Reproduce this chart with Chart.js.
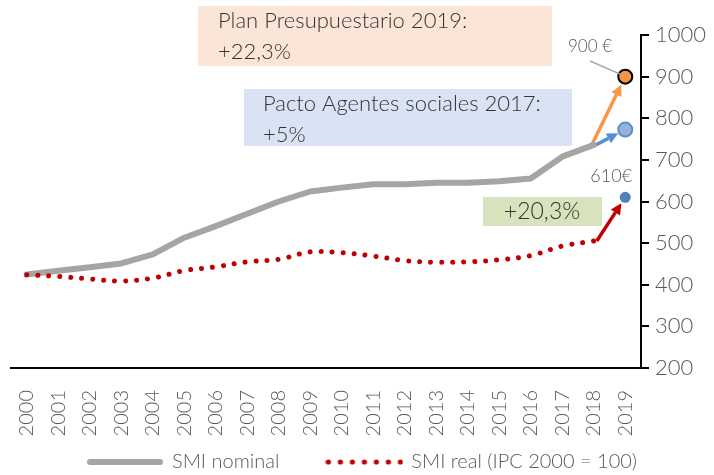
<!DOCTYPE html>
<html><head><meta charset="utf-8">
<script src="https://cdn.jsdelivr.net/npm/chart.js@4/dist/chart.umd.min.js"></script>
<style>html,body{margin:0;padding:0;background:#fff}</style>
</head><body>
<canvas id="c" width="714" height="475"></canvas>
<script>
const years = ['2000','2001','2002','2003','2004','2005','2006','2007','2008','2009','2010','2011','2012','2013','2014','2015','2016','2017','2018','2019'];
const smiNominal = [424.8,433.5,442.2,451.2,473,513,540.9,570.6,600,624,633.3,641.4,641.4,645.3,645.3,648.6,655.2,707.7,735.9,null];
const smiReal = [424,420,414,409,416,434,443,455,461,479,477,469,458,454,455,460,470,493,505,null];
const planValue2019 = 900;
const pactoValue2019 = 772.7;
const realValue2019 = 610;
const yTickMin = 200, yTickMax = 1000, yTickStep = 100;

const FONT = 'Lato';
const GREY_TXT = '#595959';

function only2019(v){ return years.map((y,i)=> i===years.length-1 ? v : null); }

function makeLegendImg(kind){
  const cv = document.createElement('canvas');
  cv.width = 78; cv.height = 8;
  const c = cv.getContext('2d');
  if (kind === 'grey') {
    c.strokeStyle = '#a5a5a5'; c.lineWidth = 6; c.lineCap = 'round';
    c.beginPath(); c.moveTo(4,4); c.lineTo(74,4); c.stroke();
  } else {
    c.fillStyle = '#c00000';
    for (let i = 0; i < 7; i++) { c.beginPath(); c.arc(3 + i*12, 4, 2.6, 0, Math.PI*2); c.fill(); }
  }
  return cv;
}
const legendImgs = [makeLegendImg('grey'), makeLegendImg('red')];

function arrow(ctx, x1, y1, x2, y2, color, shorten){
  const a = Math.atan2(y2-y1, x2-x1);
  const ex = x2 - Math.cos(a)*shorten, ey = y2 - Math.sin(a)*shorten;
  const hl = 11, hw = 5.5;
  const bx = ex - Math.cos(a)*hl, by = ey - Math.sin(a)*hl;
  ctx.save();
  ctx.strokeStyle = color; ctx.fillStyle = color; ctx.lineWidth = 3.5; ctx.lineCap='butt';
  ctx.beginPath(); ctx.moveTo(x1,y1); ctx.lineTo(bx,by); ctx.stroke();
  ctx.beginPath(); ctx.moveTo(ex,ey);
  ctx.lineTo(bx + Math.sin(a)*hw, by - Math.cos(a)*hw);
  ctx.lineTo(bx - Math.sin(a)*hw, by + Math.cos(a)*hw);
  ctx.closePath(); ctx.fill();
  ctx.restore();
}

const annot = {
  id: 'annot',
  afterLayout(chart){
    if (chart.legend) { chart.legend.top += 7; chart.legend.bottom += 7; }
  },
  beforeDatasetsDraw(chart){
    const {ctx, scales:{x, y}} = chart;
    ctx.save();
    ctx.fillStyle = '#fbe5d6'; ctx.fillRect(198, 6, 354, 60);
    ctx.fillStyle = '#dae3f3'; ctx.fillRect(244, 89, 328, 57);
    ctx.fillStyle = '#d6e3bc'; ctx.fillRect(483, 197, 119, 29);
    ctx.fillStyle = '#333333';
    ctx.font = `300 22px ${FONT}`;
    ctx.textBaseline = 'middle'; ctx.textAlign = 'left';
    ctx.fillText('Plan Presupuestario 2019:', 218, 21);
    ctx.fillText('+22,3%', 218, 52);
    ctx.fillText('Pacto Agentes sociales 2017:', 263, 104);
    ctx.fillText('+5%', 263, 135);
    ctx.textAlign = 'center';
    ctx.font = `300 23px ${FONT}`;
    ctx.fillText('+20,3%', 542, 212);
    ctx.restore();

    const i18 = years.length-2, i19 = years.length-1;
    const x18 = x.getPixelForValue(i18), x19 = x.getPixelForValue(i19);
    arrow(ctx, x18-2, y.getPixelForValue(smiNominal[i18]), x19, y.getPixelForValue(planValue2019), '#f79646', 9);
    arrow(ctx, x18+2, y.getPixelForValue(smiNominal[i18]), x19, y.getPixelForValue(pactoValue2019), '#558ed5', 8);
    arrow(ctx, x18+3, y.getPixelForValue(smiReal[i18]), x19, y.getPixelForValue(realValue2019), '#c00000', 7);
  },
  afterDatasetsDraw(chart){
    const {ctx, scales:{x, y}} = chart;
    const i19 = years.length-1;
    const x19 = x.getPixelForValue(i19);
    const yp = y.getPixelForValue(planValue2019);
    const yr = y.getPixelForValue(realValue2019);
    ctx.save();
    ctx.strokeStyle = '#a6a6a6'; ctx.lineWidth = 1.5;
    ctx.beginPath(); ctx.moveTo(590, 61); ctx.lineTo(x19-4, yp-2); ctx.stroke();
    ctx.fillStyle = GREY_TXT;
    ctx.textBaseline = 'middle'; ctx.textAlign = 'center';
    ctx.font = `300 17px ${FONT}`;
    ctx.fillText('900 €', 590, 47);
    ctx.font = `300 18px ${FONT}`;
    ctx.fillText('610€', x19-14, yr-21);
    ctx.restore();
  }
};

new Chart(document.getElementById('c'), {
  type: 'line',
  data: {
    labels: years,
    datasets: [
      { label: 'SMI nominal', data: smiNominal, borderColor: '#a5a5a5', backgroundColor: '#a5a5a5',
        borderWidth: 6, pointRadius: 0, tension: 0, borderCapStyle: 'round', borderJoinStyle: 'round', order: 2 },
      { label: 'SMI real (IPC 2000 = 100)', data: smiReal, borderColor: '#c00000', backgroundColor: '#c00000',
        borderWidth: 5, borderDash: [0.01, 11], borderCapStyle: 'round', pointRadius: 0, tension: 0.35, order: 1 },
      { label: 'plan', data: only2019(planValue2019), showLine: false, pointRadius: 7, pointBackgroundColor: '#f79646',
        pointBorderColor: '#000000', pointBorderWidth: 2, order: 0 },
      { label: 'pacto', data: only2019(pactoValue2019), showLine: false, pointRadius: 7, pointBackgroundColor: '#95b3d7',
        pointBorderColor: '#558ed5', pointBorderWidth: 2, order: 0 },
      { label: 'real2019', data: only2019(realValue2019), showLine: false, pointRadius: 5.5, pointBackgroundColor: '#4f81bd',
        pointBorderColor: '#4f81bd', pointBorderWidth: 0, order: 0 }
    ]
  },
  options: {
    responsive: false, animation: false,
    layout: { padding: { left: 11, right: 0, top: 35, bottom: 0 } },
    plugins: {
      tooltip: { enabled: false },
      legend: {
        position: 'bottom',
        labels: {
          generateLabels: (chart) => {
            const items = Chart.defaults.plugins.legend.labels.generateLabels(chart)
              .filter(it => it.datasetIndex < 2)
              .sort((a, b) => a.datasetIndex - b.datasetIndex);
            items.forEach(it => { it.pointStyle = legendImgs[it.datasetIndex]; it.fontColor = GREY_TXT; });
            return items;
          },
          usePointStyle: true, pointStyleWidth: 74,
          color: GREY_TXT, font: { family: FONT, size: 20, weight: '300' }, padding: 48
        }
      }
    },
    scales: {
      x: {
        offset: true,
        grid: { display: false },
        border: { display: true, color: '#000000', width: 2 },
        ticks: { autoSkip: false, minRotation: 90, maxRotation: 90, padding: 14, color: GREY_TXT,
          font: { family: FONT, size: 20, weight: '300' } },
        afterFit: (s) => { s.height = 29; s._computeLabelArea = () => undefined; }
      },
      y: {
        position: 'right', min: yTickMin, max: yTickMax,
        grid: { display: true, drawOnChartArea: false, drawTicks: true, tickLength: 8, color: '#000000', lineWidth: 2 },
        border: { display: true, color: '#000000', width: 2 },
        ticks: { stepSize: yTickStep, padding: 6, color: GREY_TXT, font: { family: FONT, size: 22, weight: '300' },
          callback: (v) => String(v) },
        afterFit: (s) => { s.width = 73; }
      }
    }
  },
  plugins: [annot]
});
</script>
</body></html>
